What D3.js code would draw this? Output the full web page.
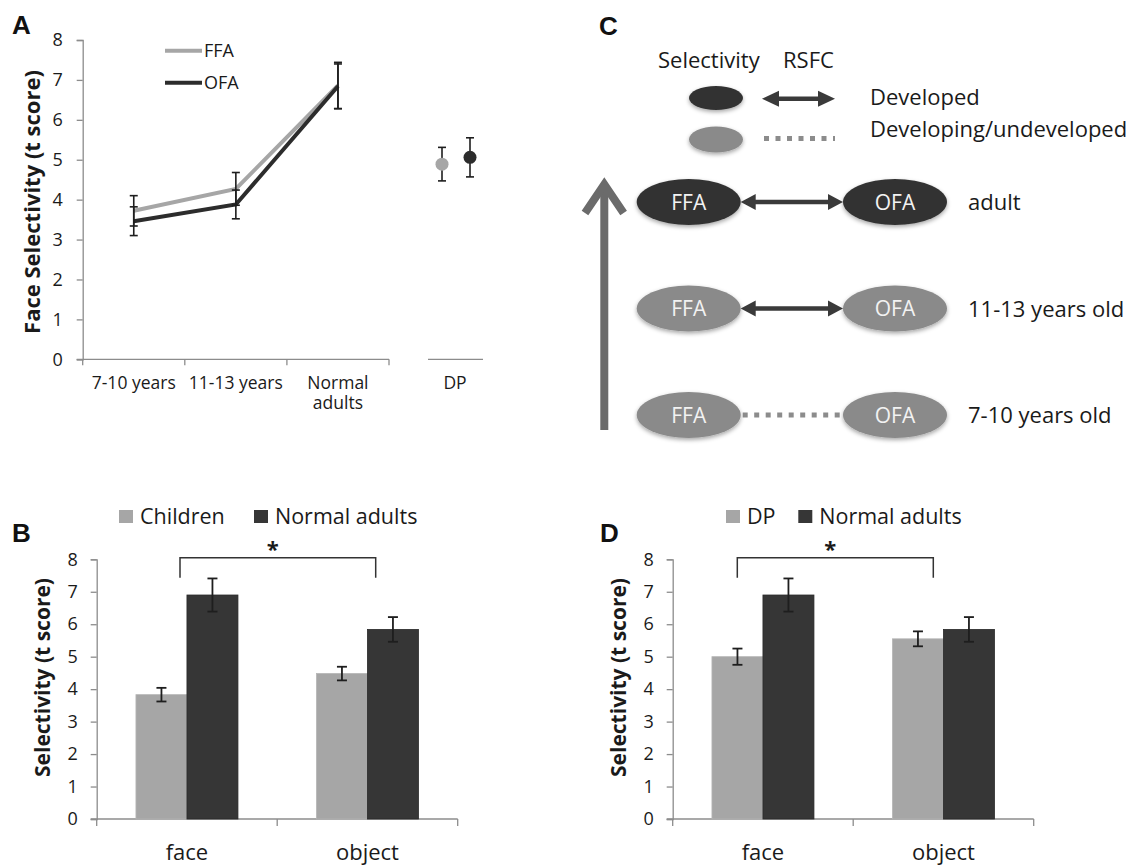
<!DOCTYPE html>
<html>
<head>
<meta charset="utf-8">
<script src="https://cdn.jsdelivr.net/npm/d3@7"></script>
<style>
  body { margin: 0; background: #fff; }
  text { font-family: "Open Sans", "Noto Sans", sans-serif; fill: #1a1a1a; }
  .letter { font-family: "Liberation Sans", Arial, sans-serif; font-weight: bold; font-size: 26px; fill: #111; }
  .ylab { font-weight: bold; }
  .tick text { font-size: 18px; }
</style>
</head>
<body>
<div id="fig"></div>
<script>
// ---------- panel A data ----------
var ageGroups = ["7-10 years", "11-13 years", "Normal adults"]
var ffaMean = [3.72, 4.27, 6.86]
var ffaErr  = [0.38, 0.41, 0.58]
var ofaMean = [3.46, 3.88, 6.84]
var ofaErr  = [0.36, 0.36, 0.56]
var dpRegions = ["FFA", "OFA"]
var dpMean = [4.89, 5.06]
var dpErr  = [0.42, 0.49]

// ---------- panel B / D data ----------
var stimuli = ["face", "object"]
var childrenMean = [3.83, 4.48]
var childrenErr  = [0.21, 0.21]
var adultsMean   = [6.90, 5.84]
var adultsErr    = [0.51, 0.38]
var dpGroupMean  = [5.00, 5.55]
var dpGroupErr   = [0.25, 0.23]

// ---------- panel C diagram ----------
var stages = ["7-10 years old", "11-13 years old", "adult"]
var stageSelectivity = ["developing", "developing", "developed"]
var stageRSFC = ["developing", "developed", "developed"]
var yTicks = [0, 1, 2, 3, 4, 5, 6, 7, 8]

var light = "#a6a6a6", dark = "#363636", axisCol = "#8c8c8c"

var svg = d3.select("#fig").append("svg")
    .attr("width", 1133)
    .attr("height", 866)

var defs = svg.append("defs")
defs.append("filter").attr("id", "shadow")
    .attr("x", "-20%").attr("y", "-20%").attr("width", "140%").attr("height", "160%")
  .append("feDropShadow")
    .attr("dx", 0).attr("dy", 2).attr("stdDeviation", 2)
    .attr("flood-color", "#000").attr("flood-opacity", 0.35)

function styleAxis(g) {
    g.selectAll(".domain").attr("stroke", axisCol).attr("stroke-width", 1.3)
    g.selectAll(".tick line").attr("stroke", axisCol).attr("stroke-width", 1.3)
    g.selectAll(".tick text").attr("fill", "#1a1a1a")
}

function errBar(g, x, y, lo, hi, cap, w) {
    g.append("line").attr("x1", x).attr("x2", x).attr("y1", y(lo)).attr("y2", y(hi))
        .attr("stroke", "#1e1e1e").attr("stroke-width", w)
    ;[lo, hi].forEach(function(v) {
        g.append("line").attr("x1", x - cap).attr("x2", x + cap).attr("y1", y(v)).attr("y2", y(v))
            .attr("stroke", "#1e1e1e").attr("stroke-width", w)
    })
}

// ================= A =================
var aY = d3.scaleLinear().domain([0, 8]).range([359.3, 40])
var aX = d3.scaleBand().domain(ageGroups).range([82.7, 389]).padding(0)
var dpX = d3.scalePoint().domain(dpRegions).range([442, 470])

var aG = svg.append("g")
aG.append("g")
    .attr("transform", "translate(82.7,0)")
    .call(d3.axisLeft(aY).tickValues(yTicks).tickSize(6).tickPadding(14))
    .call(styleAxis)

// x axis with ticks between categories
aG.append("line").attr("x1", 76.7).attr("x2", 389).attr("y1", aY(0)).attr("y2", aY(0))
    .attr("stroke", axisCol).attr("stroke-width", 1.3)
ageGroups.forEach(function(d, i) {
    var xb = aX(d) + aX.bandwidth()
    aG.append("line").attr("x1", xb).attr("x2", xb).attr("y1", aY(0)).attr("y2", aY(0) + 6)
        .attr("stroke", axisCol).attr("stroke-width", 1.3)
})
aG.append("line").attr("x1", 82.7).attr("x2", 82.7).attr("y1", aY(0)).attr("y2", aY(0) + 6)
    .attr("stroke", axisCol).attr("stroke-width", 1.3)
ageGroups.forEach(function(d) {
    var cx = aX(d) + aX.bandwidth() / 2
    var lines = d == "Normal adults" ? ["Normal", "adults"] : [d]
    lines.forEach(function(t, k) {
        aG.append("text").attr("x", cx).attr("y", 389 + k * 20)
            .attr("text-anchor", "middle").attr("font-size", 17.5).text(t)
    })
})
// DP segment
aG.append("line").attr("x1", 428).attr("x2", 483).attr("y1", aY(0)).attr("y2", aY(0))
    .attr("stroke", axisCol).attr("stroke-width", 1.3)
aG.append("text").attr("x", 455).attr("y", 389).attr("text-anchor", "middle").attr("font-size", 17.5).text("DP")

var lineA = d3.line().x(function(d, i) { return aX(ageGroups[i]) + aX.bandwidth() / 2 }).y(function(d) { return aY(d) })
aG.append("path").datum(ffaMean).attr("d", lineA).attr("fill", "none").attr("stroke", light).attr("stroke-width", 4)
aG.append("path").datum(ofaMean).attr("d", lineA).attr("fill", "none").attr("stroke", "#2c2c2c").attr("stroke-width", 4)
ageGroups.forEach(function(d, i) {
    var cx = aX(d) + aX.bandwidth() / 2
    errBar(aG, cx, aY, ffaMean[i] - ffaErr[i], ffaMean[i] + ffaErr[i], 4, 1.6)
    errBar(aG, cx, aY, ofaMean[i] - ofaErr[i], ofaMean[i] + ofaErr[i], 4, 1.6)
})
dpRegions.forEach(function(r, i) {
    errBar(aG, dpX(r), aY, dpMean[i] - dpErr[i], dpMean[i] + dpErr[i], 4, 1.6)
    aG.append("circle").attr("cx", dpX(r)).attr("cy", aY(dpMean[i])).attr("r", 6.5)
        .attr("fill", i == 0 ? light : "#2c2c2c")
})
// legend
;[["FFA", light, 50.7], ["OFA", "#2c2c2c", 82.7]].forEach(function(l) {
    aG.append("line").attr("x1", 165).attr("x2", 202).attr("y1", l[2]).attr("y2", l[2])
        .attr("stroke", l[1]).attr("stroke-width", 4)
    aG.append("text").attr("x", 204).attr("y", l[2] + 6.5).attr("font-size", 18).text(l[0])
})
aG.append("text").attr("class", "ylab").attr("font-size", 22)
    .attr("transform", "translate(40,202) rotate(-90)").attr("text-anchor", "middle")
    .text("Face Selectivity (t score)")
svg.append("text").attr("class", "letter").attr("x", 12).attr("y", 34).text("A")

// ================= B & D =================
function barPanel(cfg) {
    var g = svg.append("g")
    var y = d3.scaleLinear().domain([0, 8]).range([819, 559.3])
    var x = d3.scaleBand().domain(stimuli).range([cfg.x0, cfg.x0 + 361]).padding(0)
    var inner = d3.scaleBand().domain(["a", "b"]).range([0, 102]).padding(0)
    var off = (x.bandwidth() - 102) / 2

    g.append("g").attr("transform", "translate(" + cfg.x0 + ",0)")
        .call(d3.axisLeft(y).tickValues(yTicks).tickSize(6).tickPadding(13))
        .call(styleAxis)
    g.append("line").attr("x1", cfg.x0 - 6).attr("x2", cfg.x0 + 361).attr("y1", y(0)).attr("y2", y(0))
        .attr("stroke", axisCol).attr("stroke-width", 1.3)
    ;[0, 1, 2].forEach(function(k) {
        var xt = cfg.x0 + k * x.bandwidth()
        g.append("line").attr("x1", xt).attr("x2", xt).attr("y1", y(0)).attr("y2", y(0) + 7)
            .attr("stroke", axisCol).attr("stroke-width", 1.3)
    })

    var series = [[cfg.m1, cfg.e1, light, "a"], [adultsMean, adultsErr, dark, "b"]]
    series.forEach(function(s) {
        g.selectAll(null).data(stimuli).enter().append("rect")
            .attr("x", function(d) { return x(d) + off + inner(s[3]) })
            .attr("width", inner.bandwidth())
            .attr("y", function(d, i) { return y(s[0][i]) })
            .attr("height", function(d, i) { return y(0) - y(s[0][i]) })
            .attr("fill", s[2])
            .attr("stroke", s[3] == "a" ? "#b5b5b5" : "#2a2a2a").attr("stroke-width", 0.8)
    })
    series.forEach(function(s) {
        stimuli.forEach(function(d, i) {
            var cx = x(d) + off + inner(s[3]) + inner.bandwidth() / 2
            errBar(g, cx, y, s[0][i] - s[1][i], s[0][i] + s[1][i], 5, 1.8)
        })
    })
    stimuli.forEach(function(d) {
        g.append("text").attr("x", x(d) + x.bandwidth() / 2).attr("y", 860)
            .attr("text-anchor", "middle").attr("font-size", 22).text(d)
    })
    // significance bracket
    g.append("path")
        .attr("d", "M" + cfg.br[0] + ",577.7V557.7H" + cfg.br[1] + "V577.7")
        .attr("fill", "none").attr("stroke", "#333").attr("stroke-width", 1.5)
    g.append("text").attr("x", (cfg.br[0] + cfg.br[1]) / 2 - 5).attr("y", 557)
        .attr("text-anchor", "middle").attr("font-size", 22).attr("font-weight", "bold").text("*")
    // legend
    g.append("rect").attr("x", cfg.lg[0]).attr("y", 510).attr("width", 14).attr("height", 13).attr("fill", light)
    g.append("text").attr("x", cfg.lg[0] + 21).attr("y", 524).attr("font-size", 21.5).text(cfg.name1)
    g.append("rect").attr("x", cfg.lg[1]).attr("y", 510).attr("width", 14).attr("height", 13).attr("fill", dark)
    g.append("text").attr("x", cfg.lg[1] + 21).attr("y", 524).attr("font-size", 21.5).text("Normal adults")

    g.append("text").attr("class", "ylab").attr("font-size", 21)
        .attr("transform", "translate(" + cfg.ylx + ",677.5) rotate(-90)").attr("text-anchor", "middle")
        .text("Selectivity (t score)")
    svg.append("text").attr("class", "letter").attr("x", cfg.lx).attr("y", 542).text(cfg.letter)
}

barPanel({ x0: 96.7, m1: childrenMean, e1: childrenErr, name1: "Children",
    br: [180, 375.7], lg: [119, 254], ylx: 50, lx: 12, letter: "B" })
barPanel({ x0: 672.7, m1: dpGroupMean, e1: dpGroupErr, name1: "DP",
    br: [737.3, 933.3], lg: [726, 798.3], ylx: 626, lx: 600, letter: "D" })

// ================= C =================
var cG = svg.append("g")
svg.append("text").attr("class", "letter").attr("x", 599).attr("y", 35).text("C")

var rowY = d3.scalePoint().domain(stages).range([415, 202])
var regX = d3.scalePoint().domain(["FFA", "OFA"]).range([688.7, 895])
var rx = 52, ry = 23
var fillOf = { developed: "#333333", developing: "#8a8a8a" }

function doubleArrow(g, x1, x2, y, hl, hh, sh) {
    var pts = [[x1, y], [x1 + hl, y - hh], [x1 + hl, y - sh], [x2 - hl, y - sh], [x2 - hl, y - hh], [x2, y],
        [x2 - hl, y + hh], [x2 - hl, y + sh], [x1 + hl, y + sh], [x1 + hl, y + hh]]
    g.append("polygon").attr("points", pts.map(function(p) { return p.join(",") }).join(" "))
        .attr("fill", "#3a3a3a")
}
function dotted(g, x1, x2, y) {
    g.append("line").attr("x1", x1).attr("x2", x2).attr("y1", y).attr("y2", y)
        .attr("stroke", "#8c8c8c").attr("stroke-width", 5).attr("stroke-dasharray", "5,6.5")
}

// key
cG.append("text").attr("x", 658).attr("y", 68).attr("font-size", 22).text("Selectivity")
cG.append("text").attr("x", 783).attr("y", 68).attr("font-size", 22).text("RSFC")
cG.append("ellipse").attr("cx", 716).attr("cy", 98).attr("rx", 27).attr("ry", 12)
    .attr("fill", fillOf.developed).attr("filter", "url(#shadow)")
cG.append("ellipse").attr("cx", 716).attr("cy", 139.5).attr("rx", 27).attr("ry", 13)
    .attr("fill", fillOf.developing).attr("filter", "url(#shadow)")
doubleArrow(cG, 762, 835, 98.7, 17, 8, 2.3)
dotted(cG, 764, 835, 138.5)
cG.append("text").attr("x", 870).attr("y", 105).attr("font-size", 22).text("Developed")
cG.append("text").attr("x", 870).attr("y", 137).attr("font-size", 22).text("Developing/undeveloped")

// development arrow
cG.append("line").attr("x1", 604.3).attr("x2", 604.3).attr("y1", 430).attr("y2", 186)
    .attr("stroke", "#6b6b6b").attr("stroke-width", 8)
cG.append("path").attr("d", "M585,213L604.3,184.5L623.6,213")
    .attr("fill", "none").attr("stroke", "#6b6b6b").attr("stroke-width", 8)
    .attr("stroke-linejoin", "miter")

stages.forEach(function(s, i) {
    var yy = rowY(s)
    if (stageRSFC[i] == "developed") doubleArrow(cG, regX("FFA") + rx, regX("OFA") - rx, yy, 15, 8, 2.3)
    else dotted(cG, regX("FFA") + rx + 2, regX("OFA") - rx, yy)
    ;["FFA", "OFA"].forEach(function(r) {
        cG.append("ellipse").attr("cx", regX(r)).attr("cy", yy).attr("rx", rx).attr("ry", ry)
            .attr("fill", fillOf[stageSelectivity[i]]).attr("filter", "url(#shadow)")
        cG.append("text").attr("x", regX(r)).attr("y", yy + 7.5).attr("text-anchor", "middle")
            .attr("font-size", 21).style("fill", "#f2f2f2").text(r)
    })
    cG.append("text").attr("x", 968).attr("y", yy + 8).attr("font-size", 22).text(s)
})
</script>
</body>
</html>
